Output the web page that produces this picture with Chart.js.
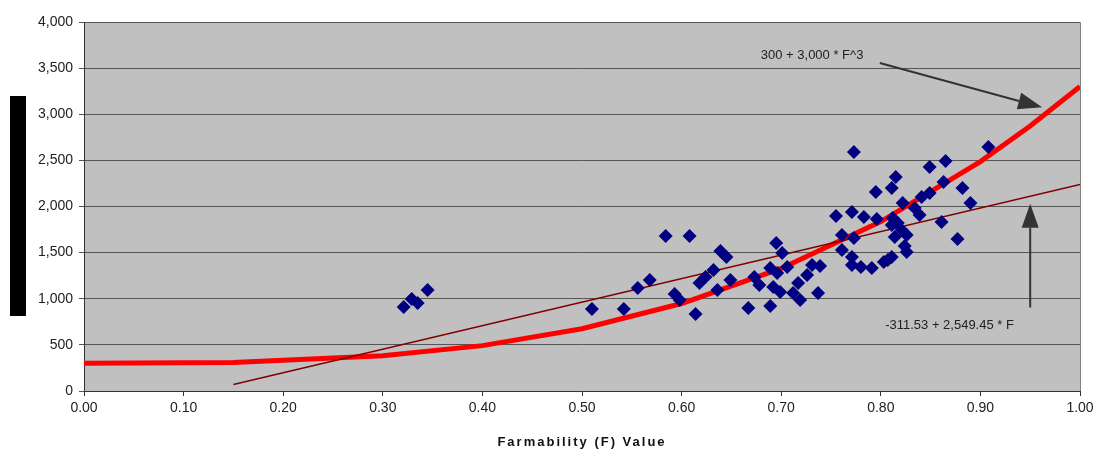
<!DOCTYPE html>
<html>
<head>
<meta charset="utf-8">
<script src="https://cdn.jsdelivr.net/npm/chart.js@4"></script>
<style>
  html, body { margin: 0; padding: 0; background: #fff; }
  #wrap { width: 1094px; height: 451px; }
</style>
</head>
<body>
<div id="wrap"><canvas id="chart" width="1094" height="451"></canvas></div>
<script>
// observed farms: farmability value and measured value
const farmF = [
  0.321, 0.329, 0.335, 0.345,
  0.510, 0.542, 0.556, 0.568, 0.584, 0.608, 0.593, 0.598, 0.614, 0.618, 0.624,
  0.639, 0.645, 0.632, 0.636, 0.649, 0.667, 0.673, 0.678, 0.689, 0.695, 0.701,
  0.689, 0.696, 0.706, 0.692, 0.699, 0.712, 0.717, 0.719, 0.726,
  0.773, 0.795, 0.755, 0.771, 0.783, 0.761, 0.761, 0.773, 0.796, 0.771, 0.771,
  0.780, 0.791, 0.739, 0.731, 0.737,
  0.908, 0.865, 0.849, 0.815, 0.811, 0.863, 0.882, 0.890, 0.849, 0.841, 0.822,
  0.834, 0.839, 0.812, 0.817, 0.811, 0.861, 0.821, 0.826, 0.814, 0.877, 0.824,
  0.826, 0.811, 0.803, 0.807
];
const farmValue = [
  911, 997, 954, 1095,
  889, 889, 1117, 1203, 1680, 1680, 1051, 986, 835, 1171, 1236,
  1518, 1453, 1312, 1095, 1203, 900, 1236, 1149, 921, 1604, 1496,
  1333, 1279, 1344, 1127, 1073, 1062, 1171, 986, 1257,
  2591, 2157, 1897, 1940, 1886, 1691, 1528, 1658, 1864, 1452, 1366,
  1344, 1333, 1355, 1366, 1062,
  2645, 2493, 2428, 2320, 2200, 2266, 2200, 2038, 2146, 2103, 2038,
  1984, 1908, 1875, 1821, 1800, 1832, 1745, 1691, 1669, 1648, 1572,
  1507, 1453, 1398, 1420
];

// 300 + 3,000 * F^3
const curveF = [0, 0.15, 0.3, 0.4, 0.5, 0.6, 0.7, 0.8, 0.9, 0.95, 1.0];
const curveValue = [300, 310, 381, 492, 675, 948, 1329, 1836, 2487, 2872, 3300];

// -311.53 + 2,549.45 * F
const trendF = [0.15, 1.0];
const trendValue = [71, 2238];

const xTicks = [0, 0.1, 0.2, 0.3, 0.4, 0.5, 0.6, 0.7, 0.8, 0.9, 1.0];
const yTicks = [0, 500, 1000, 1500, 2000, 2500, 3000, 3500, 4000];

const notes = [
  { text: "300 + 3,000 * F^3", x: 0.731, y: 3642, fromX: 0.799, fromY: 3556, toX: 0.962, toY: 3075 },
  { text: "-311.53 + 2,549.45 * F", x: 0.869, y: 715, fromX: 0.950, fromY: 905, toX: 0.950, toY: 2030 }
];

const toPoints = (xs, ys) => xs.map((x, i) => ({ x: x, y: ys[i] }));

const plotBg = {
  id: "plotBg",
  beforeDraw(chart) {
    const { ctx, chartArea: a } = chart;
    ctx.save();
    ctx.fillStyle = "#c0c0c0";
    ctx.fillRect(a.left, a.top, a.right - a.left, a.bottom - a.top);
    // frame on top/right
    ctx.strokeStyle = "#808080";
    ctx.lineWidth = 1;
    ctx.beginPath();
    ctx.moveTo(a.left, a.top + 0.5);
    ctx.lineTo(a.right + 0.5, a.top + 0.5);
    ctx.lineTo(a.right + 0.5, a.bottom);
    ctx.stroke();
    // redacted y axis title
    ctx.fillStyle = "#000";
    ctx.fillRect(10, 96, 16, 220);
    ctx.restore();
  }
};

const extras = {
  id: "extras",
  afterDraw(chart) {
    const { ctx, scales: { x, y } } = chart;
    ctx.save();
    ctx.fillStyle = "#222";
    ctx.strokeStyle = "#333";
    ctx.font = "13px 'Liberation Sans', Arial, sans-serif";
    ctx.textAlign = "center";
    ctx.textBaseline = "middle";
    notes.forEach((n) => {
      ctx.fillText(n.text, x.getPixelForValue(n.x), y.getPixelForValue(n.y));
      const x1 = x.getPixelForValue(n.fromX), y1 = y.getPixelForValue(n.fromY);
      const x2 = x.getPixelForValue(n.toX), y2 = y.getPixelForValue(n.toY);
      const ang = Math.atan2(y2 - y1, x2 - x1);
      const head = 24, half = 8.5;
      const bx = x2 - head * Math.cos(ang), by = y2 - head * Math.sin(ang);
      ctx.lineWidth = 2;
      ctx.beginPath();
      ctx.moveTo(x1, y1);
      ctx.lineTo(bx, by);
      ctx.stroke();
      ctx.beginPath();
      ctx.moveTo(x2, y2);
      ctx.lineTo(bx + half * Math.sin(ang), by - half * Math.cos(ang));
      ctx.lineTo(bx - half * Math.sin(ang), by + half * Math.cos(ang));
      ctx.closePath();
      ctx.fillStyle = "#333";
      ctx.fill();
      ctx.fillStyle = "#222";
    });
    // x axis title, spaced out like the original
    ctx.font = "bold 13px 'Liberation Sans', Arial, sans-serif";
    ctx.letterSpacing = "2px";
    ctx.fillStyle = "#111";
    ctx.fillText("Farmability (F) Value", (x.left + x.right) / 2, 442);
    ctx.restore();
  }
};

const ctx = document.getElementById("chart").getContext("2d");
new Chart(ctx, {
  type: "scatter",
  data: {
    datasets: [
      {
        label: "Farms",
        data: toPoints(farmF, farmValue),
        pointStyle: "rectRot",
        pointRadius: 7,
        backgroundColor: "#000080",
        borderColor: "#000080",
        borderWidth: 0,
        order: 0
      },
      {
        label: "300 + 3,000 * F^3",
        type: "line",
        data: toPoints(curveF, curveValue),
        borderColor: "#ff0000",
        borderWidth: 5,
        pointRadius: 0,
        tension: 0,
        fill: false,
        order: 2
      },
      {
        label: "-311.53 + 2,549.45 * F",
        type: "line",
        data: toPoints(trendF, trendValue),
        borderColor: "#800000",
        borderWidth: 1.5,
        pointRadius: 0,
        fill: false,
        order: 1
      }
    ]
  },
  options: {
    responsive: false,
    animation: false,
    layout: { padding: { top: 22, right: 14, left: 0, bottom: 0 } },
    plugins: { legend: { display: false }, tooltip: { enabled: false } },
    scales: {
      x: {
        type: "linear",
        min: 0,
        max: 1,
        afterBuildTicks: (s) => { s.ticks = xTicks.map((v) => ({ value: v })); },
        afterFit: (s) => { s.height = 60; s.paddingLeft = 0; s.paddingRight = 0; },
        ticks: {
          color: "#222",
          font: { family: "'Liberation Sans', Arial, sans-serif", size: 14 },
          padding: 4,
          maxRotation: 0,
          callback: (v) => Number(v).toFixed(2)
        },
        grid: { drawOnChartArea: false, drawTicks: true, tickLength: 5, color: "#333" },
        border: { color: "#333", width: 1 }
      },
      y: {
        min: 0,
        max: 4000,
        afterBuildTicks: (s) => { s.ticks = yTicks.map((v) => ({ value: v })); },
        afterFit: (s) => { s.width = 84; s.paddingTop = 0; s.paddingBottom = 0; },
        ticks: {
          color: "#222",
          font: { family: "'Liberation Sans', Arial, sans-serif", size: 14 },
          padding: 6,
          callback: (v) => Number(v).toLocaleString("en-US")
        },
        grid: { color: "#555", tickLength: 5, lineWidth: 1 },
        border: { color: "#333", width: 1 }
      }
    }
  },
  plugins: [plotBg, extras]
});
</script>
</body>
</html>
